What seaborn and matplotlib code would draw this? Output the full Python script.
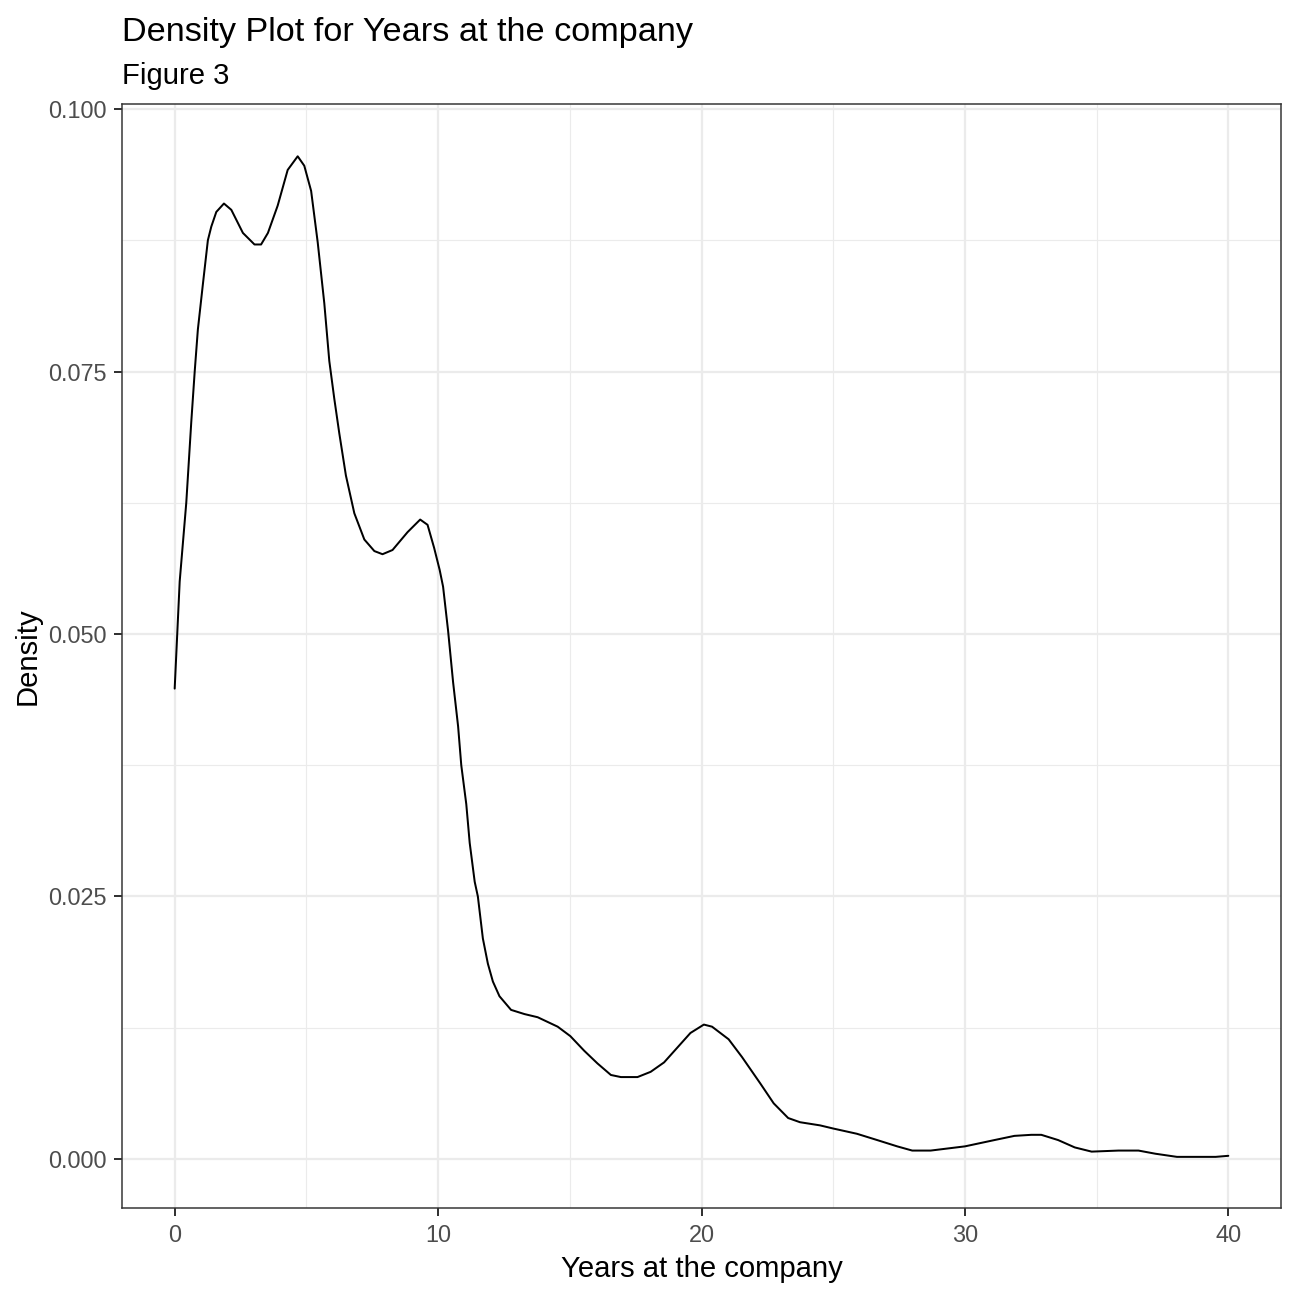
import numpy as np
import pandas as pd
import matplotlib
matplotlib.use("Agg")
import matplotlib.pyplot as plt
import seaborn as sns
from matplotlib.ticker import MultipleLocator

# Density curve
years = [0, 0.19, 0.44, 0.63, 0.76, 0.88, 1.07, 1.26, 1.39, 1.58, 1.87, 2.15, 2.59,
         3.03, 3.28, 3.54, 3.91, 4.29, 4.67, 4.92, 5.18, 5.43, 5.68, 5.87, 6.06,
         6.25, 6.50, 6.82, 7.20, 7.58, 7.89, 8.27, 8.84, 9.32, 9.60, 9.85, 10.06,
         10.19, 10.38, 10.57, 10.76, 10.88, 11.07, 11.20, 11.39, 11.51, 11.70,
         11.89, 12.08, 12.33, 12.77, 13.28, 13.78, 14.54, 15.02, 15.55, 16.05,
         16.56, 16.94, 17.57, 18.07, 18.58, 19.08, 19.58, 20.09, 20.40, 21.03,
         21.54, 22.23, 22.74, 23.29, 23.74, 24.5, 25.0, 25.9, 26.67, 27.43, 28.0,
         28.7, 30.0, 31.12, 31.88, 32.52, 32.9, 33.54, 34.17, 34.81, 35.83, 36.59,
         37.23, 38.05, 39.52, 40.0]
density = [0.0448, 0.0550, 0.0625, 0.0702, 0.0750, 0.0790, 0.0833, 0.0875, 0.0888,
           0.0902, 0.0910, 0.0904, 0.0882, 0.0871, 0.0871, 0.0882, 0.0908, 0.0942,
           0.0955, 0.0946, 0.0922, 0.0873, 0.0815, 0.0760, 0.0724, 0.0691, 0.0651,
           0.0615, 0.0590, 0.0579, 0.0576, 0.0580, 0.0597, 0.0609, 0.0604, 0.0582,
           0.0561, 0.0545, 0.0503, 0.0454, 0.0412, 0.0375, 0.0338, 0.0301, 0.0264,
           0.0250, 0.0210, 0.0186, 0.0169, 0.0155, 0.0142, 0.0138, 0.0135, 0.0126,
           0.0117, 0.0103, 0.0091, 0.0080, 0.0078, 0.0078, 0.0083, 0.0092, 0.0106,
           0.0120, 0.0128, 0.0126, 0.0114, 0.0097, 0.0072, 0.0053, 0.0039, 0.0035,
           0.0032, 0.0029, 0.0024, 0.0018, 0.0012, 0.0008, 0.0008, 0.0012, 0.0018,
           0.0022, 0.0023, 0.0023, 0.0018, 0.0011, 0.0007, 0.0008, 0.0008, 0.0005,
           0.0002, 0.0002, 0.0003]

x_ticks = [0, 10, 20, 30, 40]
y_ticks = [0.000, 0.025, 0.050, 0.075, 0.100]
y_tick_labels = ["0.000", "0.025", "0.050", "0.075", "0.100"]

title = "Density Plot for Years at the company"
subtitle = "Figure 3"
x_label = "Years at the company"
y_label = "Density"

df = pd.DataFrame({"years": years, "density": density})

sns.set_theme(style="white")
plt.rcParams["font.family"] = ["Liberation Sans", "DejaVu Sans"]

W = H = 1296
fig = plt.figure(figsize=(7.2, 7.2), dpi=180)
ax = fig.add_axes([122 / W, 1 - 1208 / H, (1281 - 122) / W, (1208 - 104) / H])

ax.xaxis.set_minor_locator(MultipleLocator(5))
ax.yaxis.set_minor_locator(MultipleLocator(0.0125))
ax.grid(which="major", color="#EBEBEB", linewidth=0.9)
ax.grid(which="minor", color="#EBEBEB", linewidth=0.45)
ax.set_axisbelow(True)

sns.lineplot(data=df, x="years", y="density", ax=ax, color="black",
             linewidth=0.8, sort=True, estimator=None)

ax.set_xlim(-2, 42)
ax.set_ylim(-0.00467, 0.10048)
ax.set_xticks(x_ticks)
ax.set_xticklabels([str(t) for t in x_ticks])
ax.set_yticks(y_ticks)
ax.set_yticklabels(y_tick_labels)

ax.tick_params(axis="both", which="major", length=3.2, width=0.8,
               color="#333333", labelsize=9.4, labelcolor="#4D4D4D", pad=3.0,
               bottom=True, left=True)
ax.tick_params(axis="both", which="minor", length=0)

for sp in ax.spines.values():
    sp.set_visible(True)
    sp.set_color("#333333")
    sp.set_linewidth(0.6)

ax.set_xlabel("")
ax.set_ylabel("")
fig.text(0.5 * (122 + 1281) / W, 1 - 1277 / H, x_label, ha="center",
         va="baseline", fontsize=11.7, color="black")
fig.text(28 / W, 1 - 656 / H, y_label, ha="center", va="center",
         rotation=90, fontsize=11.7, color="black")
fig.text(122 / W, 1 - 41 / H, title, ha="left", va="baseline",
         fontsize=13.7, color="black")
fig.text(122 / W, 1 - 84 / H, subtitle, ha="left", va="baseline",
         fontsize=11.7, color="black")

fig.savefig("out.png", dpi=180, facecolor="white")
